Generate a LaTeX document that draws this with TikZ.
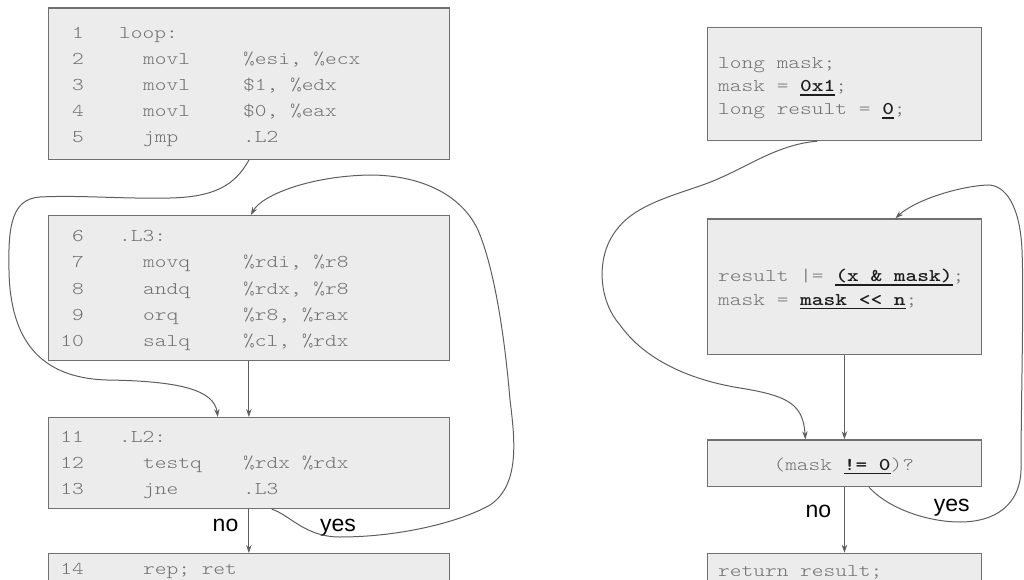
\documentclass[tikz,border=0pt]{standalone}
\usepackage{fontspec}
\usetikzlibrary{arrows.meta}
\newfontfamily\codefont{lmmonolt10-regular}[Extension=.otf, BoldFont=lmmonolt10-bold, FakeStretch=1.24]
\newfontfamily\labelfont{Liberation Sans}
\definecolor{boxfill}{HTML}{ECECEC}
\definecolor{boxline}{HTML}{707070}
\definecolor{codegray}{HTML}{707070}
\definecolor{codedark}{HTML}{1E1E1E}
\definecolor{wire}{HTML}{5E5E5E}
\newcommand{\codestyle}{\codefont\fontsize{18}{22}\selectfont\frenchspacing}
\newcommand{\codeul}[1]{{\color{codedark}\bfseries\setbox0=\hbox{#1}\rlap{\rule[-4pt]{\wd0}{1.5pt}}\box0}}

\begin{document}
\begin{tikzpicture}[x=1pt, y=-1pt,
    block/.style={draw=boxline, fill=boxfill, line width=1.2pt, anchor=north west,
      inner sep=0pt, minimum width=401.5pt},
    cblock/.style={block, minimum width=274.3pt},
    code/.style={anchor=base west, inner sep=0pt, text=codegray, font=\codestyle},
    lineno/.style={code, anchor=base east},
    flow/.style={draw=wire, line width=1pt, -{Stealth[length=8pt,width=5.5pt]}},
    answer/.style={anchor=base, inner sep=0pt, font=\labelfont\fontsize{23}{26}\selectfont}]
  \useasboundingbox (0,0) rectangle (1024,580);

  \node[block, minimum height=151.5pt] (loop) at (47.5,7.5) {};
  \node[block, minimum height=145pt] (lthree) at (47.5,215) {};
  \node[block, minimum height=91pt] (ltwo) at (47.5,417) {};
  \node[block, minimum height=60pt] (ret) at (47.5,553) {};

  \foreach \num/\y/\x/\ins/\arg in {
      1/39/119/loop:/{}, 2/64.8/143/movl/{\%esi, \%ecx}, 3/90.6/143/movl/{\$1, \%edx},
      4/116.4/143/movl/{\$0, \%eax}, 5/142.2/143/jmp/{.L2},
      6/241/119/.L3:/{}, 7/267.5/143/movq/{\%rdi, \%r8}, 8/294/143/andq/{\%rdx, \%r8},
      9/320/143/orq/{\%r8, \%rax}, 10/346/143/salq/{\%cl, \%rdx},
      11/442/119/.L2:/{}, 12/468.5/143/testq/{\%rdx \%rdx}, 13/494/143/jne/{.L3},
      14/574/143/{rep; ret}/{}}
  {
    \node[lineno] (n\num) at (84,\y) {\num};
    \node[code] (i\num) at (\x,\y) {\ins};
    \node[code] (a\num) at (243,\y) {\arg};
  }

  \node[cblock, minimum height=113.3pt] (init) at (706.7,26.7) {};
  \node[cblock, minimum height=135.7pt] (body) at (706.7,218.3) {};
  \node[cblock, minimum height=46.7pt] (test) at (706.7,439.3) {};
  \node[cblock, minimum height=60pt] (done) at (706.7,552.7) {};

  \node[code] (c1) at (718,68.3) {long mask;};
  \node[code] (c2) at (718,91.7) {mask = \codeul{0x1};};
  \node[code] (c3) at (718,115) {long result = \codeul{0};};
  \node[code] (c4) at (718,281.7) {result |= \codeul{(x \& mask)};};
  \node[code] (c5) at (718,305) {mask = \codeul{mask <{}< n};};
  \node[code, anchor=base] (c6) at (843.85,470) {(mask \codeul{!= 0})?};
  \node[code] (c7) at (718,576.7) {return result;};

  \node[answer] (no1) at (225.5,531.7) {no};
  \node[answer] (yes1) at (338,531.7) {yes};
  \node[answer] (no2) at (818.3,517.3) {no};
  \node[answer] (yes2) at (951.7,511.7) {yes};

  \begin{scope}[flow]
    \draw (lthree.south) -- (ltwo.north);
    \draw (ltwo.south) -- (ret.north);
    \draw (loop.south) .. controls (235,185) and (215,197) .. (170,198)
      .. controls (120,199) and (80,195) .. (40,197)
      .. controls (12,199) and (8,225) .. (9,270)
      .. controls (10,340) and (40,378) .. (107,380)
      .. controls (180,381) and (214,390) .. ([xshift=-31pt]ltwo.north);
    \draw ([xshift=23pt]ltwo.south) .. controls (290,515) and (305,537) .. (340,537)
      .. controls (400,537) and (460,522) .. (490,505)
      .. controls (520,485) and (515,440) .. (510,400)
      .. controls (505,340) and (495,270) .. (478,230)
      .. controls (458,188) and (410,175) .. (370,175)
      .. controls (310,176) and (262,195) .. ([xshift=2pt]lthree.north);

    \draw (body.south) -- (test.north);
    \draw (test.south) -- (done.north);
    \draw ([xshift=-27pt]init.south) .. controls (780,144) and (750,165) .. (720,178)
      .. controls (690,192) and (640,200) .. (618,228)
      .. controls (595,255) and (598,300) .. (620,325)
      .. controls (645,360) and (690,380) .. (740,388)
      .. controls (790,396) and (803,405) .. ([xshift=-39pt]test.north);
    \draw ([xshift=24.5pt]test.south) .. controls (890,510) and (930,522) .. (960,522)
      .. controls (995,522) and (1020,505) .. (1021,470)
      .. controls (1021,400) and (1024,300) .. (1022,250)
      .. controls (1020,205) and (1005,185) .. (988,185)
      .. controls (960,186) and (915,200) .. ([xshift=51pt]body.north);
  \end{scope}
\end{tikzpicture}
\end{document}
